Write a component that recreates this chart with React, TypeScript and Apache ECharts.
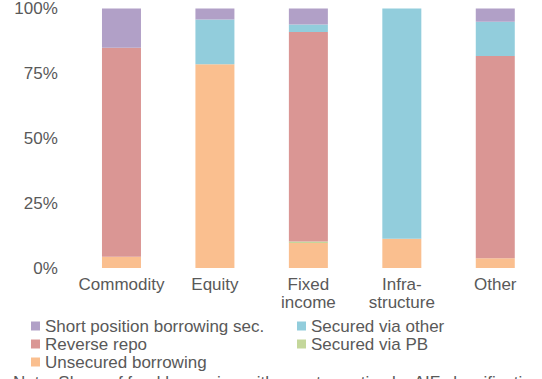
import React, { useEffect, useRef } from "react";
import * as echarts from "echarts";

const categories = ["Commodity", "Equity", "Fixed\nincome", "Infra-\nstructure", "Other"];
const yTicks = [0, 25, 50, 75, 100];
const unsecured = [4.3, 78.5, 9.6, 11.3, 3.8];
const securedPB = [0, 0, 0.6, 0, 0];
const reverseRepo = [80.6, 0, 80.7, 0, 77.9];
const securedOther = [0, 17.3, 2.9, 88.7, 13.2];
const shortPosition = [15.1, 4.2, 6.2, 0, 5.1];

const names = {
  short: "Short position borrowing sec.",
  other: "Secured via other",
  repo: "Reverse repo",
  pb: "Secured via PB",
  unsec: "Unsecured borrowing",
};
const noteText =
  "Note: Share of fund borrowing with counterparties by AIF classification. Other strategies";

const FONT = "'Liberation Sans', Arial, sans-serif";
const GREY = "#595959";

export default function App() {
  const ref = useRef<HTMLDivElement>(null);
  useEffect(() => {
    if (!ref.current) return;
    const chart = echarts.init(ref.current, undefined, { renderer: "svg" });
    const mk = (name: string, data: number[], color: string) => ({
      name,
      type: "bar",
      stack: "total",
      data,
      barWidth: 39,
      itemStyle: { color },
      emphasis: { disabled: true },
    });
    const legendText = { color: GREY, fontSize: 17, fontFamily: FONT, lineHeight: 18 };
    const lg = (name: string, left: number, top: number) => ({
      orient: "horizontal",
      left,
      top,
      padding: 0,
      itemWidth: 9,
      itemHeight: 9,
      itemGap: 0,
      icon: "rect",
      textStyle: legendText,
      data: [name],
      selectedMode: false,
    });
    chart.setOption({
      animation: false,
      textStyle: { fontFamily: FONT },
      grid: { left: 74.75, right: -20.25, top: 8, bottom: 111, containLabel: false },
      xAxis: {
        type: "category",
        data: categories,
        axisLine: { show: false },
        axisTick: { show: false },
        axisLabel: { color: GREY, fontSize: 17, fontFamily: FONT, lineHeight: 18, margin: 7, interval: 0 },
      },
      yAxis: {
        type: "value",
        min: yTicks[0],
        max: yTicks[yTicks.length - 1],
        interval: 25,
        splitLine: { show: false },
        axisLine: { show: false },
        axisTick: { show: false },
        axisLabel: { color: GREY, fontSize: 17, fontFamily: FONT, margin: 17, formatter: "{value}%" },
      },
      legend: [
        lg(names.short, 31, 317),
        lg(names.repo, 31, 335),
        lg(names.unsec, 31, 353),
        lg(names.other, 297, 317),
        lg(names.pb, 297, 335),
      ],
      graphic: [
        {
          type: "text",
          left: 13,
          top: 374,
          style: { text: noteText, fill: GREY, fontSize: 17, fontFamily: FONT },
        },
      ],
      series: [
        mk(names.unsec, unsecured, "#FABF8F"),
        mk(names.pb, securedPB, "#C4D79B"),
        mk(names.repo, reverseRepo, "#DA9694"),
        mk(names.other, securedOther, "#92CDDC"),
        mk(names.short, shortPosition, "#B1A0C7"),
      ],
    });
    return () => chart.dispose();
  }, []);
  return (
    <div
      ref={ref}
      style={{ position: "fixed", left: 0, top: 0, width: 542, height: 379, background: "#fff" }}
    />
  );
}
